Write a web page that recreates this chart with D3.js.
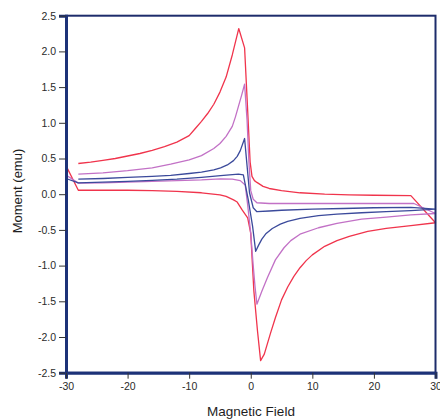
<!DOCTYPE html>
<html>
<head>
<meta charset="utf-8">
<script src="https://cdn.jsdelivr.net/npm/d3@7/dist/d3.min.js"></script>
<style>
  html, body { margin: 0; padding: 0; background: #ffffff; }
  svg { display: block; }
  .tick text { font-family: "Liberation Sans", Arial, Helvetica, sans-serif; font-size: 10.5px; fill: #2a2a2a; }
  .axis-title { font-family: "Liberation Sans", Arial, Helvetica, sans-serif; fill: #1e1e1e; }
</style>
</head>
<body>
<svg id="chart" width="440" height="419"></svg>
<script>
// Hysteresis loops: moment (emu) versus applied magnetic field.
// Each loop is traced as one continuous path, branch by branch.

const xTicks = [-30, -20, -10, 0, 10, 20, 30];
const yTicks = [-2.5, -2.0, -1.5, -1.0, -0.5, 0.0, 0.5, 1.0, 1.5, 2.0, 2.5];

// Largest loop (red)
const redField = [
  -28, -26, -24, -22, -20, -18, -16, -14, -12, -10, -9, -8, -7, -6, -5, -4, -3, -1.95, -1.0, -0.6, -0.35, -0.1, 0.2, 0.6, 1.0, 2, 3, 5, 8, 12, 16, 20, 26, 30,
  26, 22, 19, 16, 14, 12, 10, 9, 8, 7, 6, 5, 4, 3.2, 2.2, 1.6, 1.1, 0.5, 0.0, -0.5, -1.4, -2.2, -2.8, -4, -5, -8, -12, -16, -20, -24, -28, -30
];
const redMoment = [
  0.43, 0.45, 0.475, 0.50, 0.535, 0.57, 0.615, 0.665, 0.73, 0.82, 0.92, 1.02, 1.13, 1.26, 1.43, 1.64, 1.95, 2.32, 2.05, 1.35, 0.90, 0.45, 0.25, 0.19, 0.165, 0.11, 0.08, 0.05, 0.02, 0.0, -0.01, -0.015, -0.02, -0.40,
  -0.44, -0.48, -0.52, -0.59, -0.65, -0.73, -0.85, -0.93, -1.03, -1.15, -1.30, -1.48, -1.73, -1.95, -2.24, -2.33, -1.92, -1.35, -0.55, -0.33, -0.22, -0.11, -0.08, -0.03, -0.01, 0.02, 0.04, 0.05, 0.055, 0.055, 0.055, 0.40
];

// Middle loop (orchid)
const pinkField = [
  -28, -24, -20, -16, -13, -10, -8, -6, -5, -4, -3, -2.5, -2, -1.5, -1.0, -0.6, -0.3, 0.0, 0.4, 1.0, 3, 8, 15, 22, 26.5, 30,
  26, 22, 18, 14, 11, 8, 6.5, 5.4, 4, 2.7, 1.8, 1.0, 0.7, 0.4, 0.0, -0.5, -0.9, -1.7, -3, -4.9, -8, -12, -16, -20, -24, -28, -30
];
const pinkMoment = [
  0.28, 0.30, 0.33, 0.37, 0.42, 0.48, 0.54, 0.64, 0.71, 0.81, 0.95, 1.08, 1.23, 1.38, 1.54, 1.04, 0.45, 0.05, -0.07, -0.12, -0.13, -0.13, -0.13, -0.13, -0.13, -0.27,
  -0.29, -0.32, -0.35, -0.41, -0.47, -0.56, -0.65, -0.75, -0.92, -1.17, -1.36, -1.54, -1.30, -1.00, -0.55, -0.15, 0.13, 0.19, 0.21, 0.215, 0.20, 0.19, 0.18, 0.17, 0.16, 0.155, 0.27
];

// Smallest loop (navy)
const blueField = [
  -28, -24, -20, -16, -13, -10, -8, -6, -4.9, -3.8, -2.8, -2.2, -1.7, -1.0, -0.6, -0.2, 0.4, 1.0, 3, 5, 10, 15, 20, 26, 30,
  26, 22, 18, 14, 11, 8, 6, 4.8, 3.5, 2.5, 1.8, 1.3, 0.8, 0.3, -0.4, -1.2, -2, -4.9, -8, -12, -16, -20, -24, -28, -30
];
const blueMoment = [
  0.21, 0.22, 0.235, 0.25, 0.265, 0.29, 0.31, 0.34, 0.37, 0.41, 0.47, 0.53, 0.61, 0.78, 0.40, 0.02, -0.19, -0.245, -0.235, -0.225, -0.21, -0.20, -0.19, -0.185, -0.21,
  -0.23, -0.245, -0.26, -0.28, -0.30, -0.34, -0.38, -0.42, -0.48, -0.55, -0.63, -0.71, -0.80, -0.45, -0.08, 0.27, 0.28, 0.26, 0.235, 0.21, 0.195, 0.18, 0.17, 0.16, 0.22
];

const loops = [
  { name: "red",  field: redField,  moment: redMoment,  color: "#f0344c" },
  { name: "pink", field: pinkField, moment: pinkMoment, color: "#c271c6" },
  { name: "blue", field: blueField, moment: blueMoment, color: "#3b4a9b" }
];

const svg = d3.select("#chart");
const plotLeft = 66, plotRight = 435.5, plotTop = 15.7, plotBottom = 372.7;

const x = d3.scaleLinear().domain([-30, 30]).range([plotLeft, plotRight]);
const y = d3.scaleLinear().domain([-2.5, 2.5]).range([plotBottom, plotTop]);

svg.append("rect").attr("width", 440).attr("height", 419).attr("fill", "#ffffff");

// Curves
const line = d3.line().x(d => x(d[0])).y(d => y(d[1])).curve(d3.curveLinear);
const plot = svg.append("g");
loops.forEach(l => {
  const pts = l.field.map((f, i) => [f, l.moment[i]]);
  plot.append("path")
    .attr("d", line(pts))
    .attr("fill", "none")
    .attr("stroke", l.color)
    .attr("stroke-width", 1.3)
    .attr("stroke-linejoin", "round");
});

// Frame
svg.append("rect")
  .attr("x", plotLeft).attr("y", plotTop)
  .attr("width", plotRight - plotLeft).attr("height", plotBottom - plotTop)
  .attr("fill", "none").attr("stroke", "#1d2c6b").attr("stroke-width", 2);

// Axes
const yAxis = d3.axisLeft(y).tickValues(yTicks).tickFormat(d => d.toFixed(1)).tickSize(7).tickPadding(3);
const xAxis = d3.axisBottom(x).tickValues(xTicks).tickFormat(d => String(d)).tickSize(6).tickPadding(4);

const gy = svg.append("g").attr("transform", `translate(${plotLeft},0)`).call(yAxis);
const gx = svg.append("g").attr("transform", `translate(0,${plotBottom})`).call(xAxis);

[gx, gy].forEach(g => {
  g.select(".domain").attr("stroke", "#1d3278").attr("stroke-width", 3);
  g.selectAll(".tick line").attr("stroke", "#333").attr("stroke-width", 1);
  g.selectAll(".tick text").attr("fill", "#2a2a2a");
});

// Axis titles
svg.append("text").attr("class", "axis-title")
  .attr("x", 251).attr("y", 416)
  .attr("text-anchor", "middle").attr("font-size", 13.5)
  .text("Magnetic Field");

svg.append("text").attr("class", "axis-title")
  .attr("transform", "translate(22,191) rotate(-90)")
  .attr("text-anchor", "middle").attr("font-size", 13)
  .text("Moment (emu)");
</script>
</body>
</html>
